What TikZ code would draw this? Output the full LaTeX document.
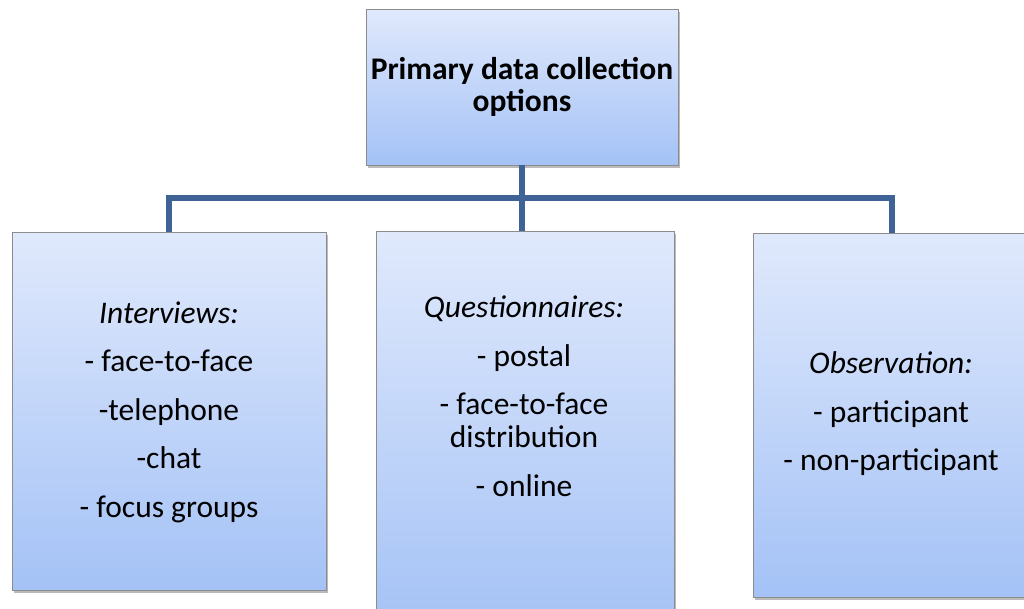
\documentclass[tikz,border=0pt]{standalone}
\usepackage{fontspec}
\setmainfont{Carlito}
\usetikzlibrary{shadows}
\definecolor{boxtop}{RGB}{224,233,252}
\definecolor{boxbottom}{RGB}{164,194,246}
\definecolor{boxedge}{RGB}{140,140,140}
\definecolor{linkblue}{RGB}{63,99,151}
\tikzset{
  x=1pt, y=-1pt,
  panel/.style={draw=boxedge, line width=0.8pt, top color=boxtop, bottom color=boxbottom,
    inner sep=0pt, outer sep=0pt,
    drop shadow={shadow xshift=2pt, shadow yshift=-2.5pt, opacity=0.45, fill=black!60}},
  link/.style={draw=linkblue, line width=5.5pt},
  txt/.style={align=center, font=\fontsize{31.5}{33}\selectfont, inner sep=0pt}
}
\begin{document}
\begin{tikzpicture}
\useasboundingbox (0,0) rectangle (1024,608);

% boxes of the tree
\node[panel, minimum width=312pt, minimum height=156pt] (root) at (522,87) {};
\node[panel, minimum width=314pt, minimum height=358pt] (left) at (169,411) {};
\node[panel, minimum width=298pt, minimum height=399pt] (mid) at (525,430.5) {};
\node[panel, minimum width=278pt, minimum height=364pt] (right) at (892,415) {};
\coordinate (bus) at (522,198);

% connectors
\draw[link] (root.south) -- (root.south|-mid.north);
\draw[link, line join=miter] (left.north) -- (left.north|-bus) -- (right.north|-bus) -- (right.north);

% labels
\node[txt, font=\fontsize{31.5}{32}\selectfont\bfseries] (t0) at (root)
  {Primary data collection\\options};
\node[txt] (t1) at (169,412)
  {\textit{Interviews:}\\[15.5pt]- face-to-face\\[15.5pt]-telephone\\[15.5pt]-chat\\[15.5pt]- focus groups};
\node[txt] (t2) at (524,396)
  {\textit{Questionnaires:}\\[15.5pt]- postal\\[15.5pt]- face-to-face\\distribution\\[15.5pt]- online};
\node[txt] (t3) at (891,414)
  {\textit{Observation:}\\[15.5pt]- participant\\[15.5pt]- non-participant};
\end{tikzpicture}
\end{document}
